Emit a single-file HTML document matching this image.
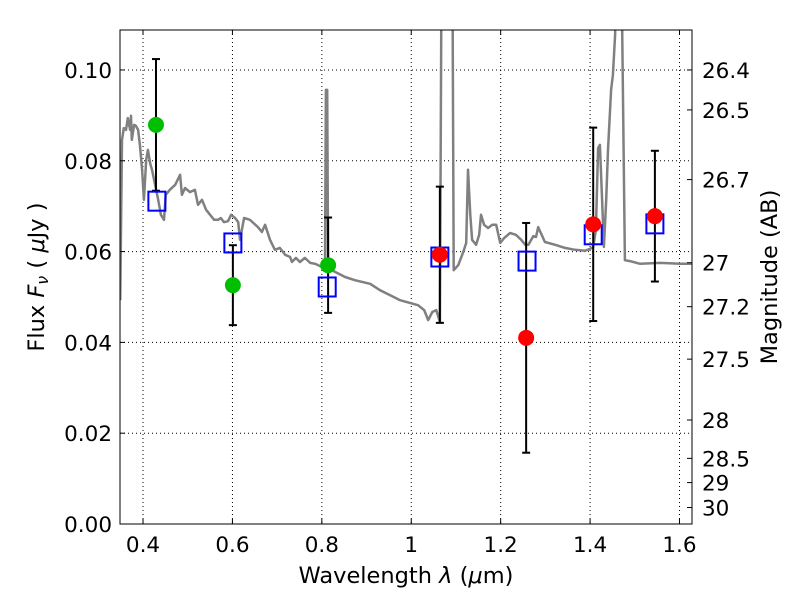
<!DOCTYPE html>
<html><head><meta charset="utf-8"><style>
body{margin:0;background:#fff;}
svg text{font-family:"DejaVu Sans","Liberation Sans",sans-serif;fill:#000;}
</style></head><body>
<svg id="chart" width="800" height="600" xmlns="http://www.w3.org/2000/svg">
<defs><clipPath id="clip"><rect x="120" y="30" width="572" height="494"/></clipPath></defs>
<g id="grid"></g>
<g id="spec" clip-path="url(#clip)"></g>
<g id="marks" clip-path="url(#clip)"></g>
<rect x="120" y="30" width="572" height="494" fill="none" stroke="#000" stroke-width="1"/>
<g id="axes"></g>
<text x="406" y="583" text-anchor="middle" font-size="22.5">Wavelength  <tspan font-style="italic">λ</tspan> (<tspan font-style="italic">μ</tspan>m)</text>
<text transform="translate(44,277) rotate(-90)" text-anchor="middle" font-size="22.5">Flux  <tspan font-style="italic">F<tspan font-size="16" dy="4">ν</tspan></tspan><tspan dy="-4">  ( </tspan><tspan font-style="italic">μ</tspan>Jy )</text>
<text transform="translate(777,277) rotate(-90)" text-anchor="middle" font-size="22.5">Magnitude (AB)</text>
</svg>
<script>
const specWl=[0.349,0.353,0.357,0.362,0.366,0.371,0.373,0.375,0.380,0.384,0.389,0.393,0.398,0.402,0.407,0.411,0.416,0.420,0.427,0.434,0.440,0.447,0.451,0.460,0.472,0.483,0.487,0.494,0.505,0.516,0.523,0.532,0.541,0.550,0.559,0.568,0.574,0.581,0.590,0.597,0.606,0.613,0.617,0.626,0.639,0.657,0.666,0.673,0.684,0.695,0.706,0.718,0.729,0.733,0.742,0.751,0.762,0.774,0.785,0.796,0.807,0.809,0.812,0.814,0.830,0.852,0.874,0.908,0.930,0.953,0.975,0.997,1.015,1.029,1.038,1.047,1.056,1.064,1.069,1.091,1.095,1.105,1.114,1.118,1.123,1.127,1.132,1.136,1.145,1.152,1.156,1.163,1.172,1.181,1.190,1.199,1.208,1.221,1.234,1.246,1.255,1.262,1.273,1.279,1.284,1.299,1.322,1.344,1.366,1.389,1.400,1.407,1.413,1.418,1.422,1.427,1.431,1.436,1.440,1.447,1.451,1.456,1.465,1.467,1.478,1.489,1.512,1.557,1.602,1.628];
const specFlux=[0.0493,0.0846,0.0872,0.0868,0.0894,0.0868,0.0899,0.0846,0.0879,0.0877,0.0868,0.0835,0.0780,0.0714,0.0802,0.0824,0.0794,0.0780,0.0747,0.0714,0.0681,0.0670,0.0725,0.0736,0.0747,0.0769,0.0725,0.0740,0.0731,0.0736,0.0703,0.0714,0.0692,0.0681,0.0670,0.0670,0.0674,0.0665,0.0667,0.0681,0.0674,0.0665,0.0626,0.0674,0.0670,0.0654,0.0643,0.0659,0.0626,0.0604,0.0608,0.0593,0.0588,0.0577,0.0586,0.0577,0.0586,0.0575,0.0573,0.0568,0.0564,0.0956,0.0956,0.0564,0.0555,0.0544,0.0537,0.0529,0.0515,0.0504,0.0493,0.0487,0.0482,0.0471,0.0449,0.0467,0.0471,0.0445,0.15,0.15,0.0559,0.0570,0.0593,0.0604,0.0619,0.0780,0.0681,0.0626,0.0615,0.0637,0.0681,0.0659,0.0652,0.0659,0.0659,0.0619,0.0630,0.0641,0.0637,0.0626,0.0615,0.0615,0.0634,0.0632,0.0654,0.0621,0.0615,0.0608,0.0604,0.0602,0.0606,0.0610,0.0648,0.0828,0.0835,0.0714,0.0610,0.0714,0.0824,0.0956,0.0989,0.1077,0.15,0.15,0.0581,0.0579,0.0573,0.0575,0.0573,0.0573,0.0573,0.0570];
const greenWl=[0.429,0.601,0.814];
const greenFlux=[0.0879,0.0526,0.0570];
const greenErr=[0.0145,0.0088,0.0105];
const redWl=[1.064,1.257,1.407,1.545];
const redFlux=[0.0593,0.0410,0.0660,0.0678];
const redErr=[0.0150,0.0253,0.0213,0.0144];
const modelWl=[0.431,0.601,0.812,1.064,1.259,1.407,1.545];
const modelFlux=[0.0711,0.0619,0.0522,0.0588,0.0579,0.0637,0.0661];
const xTicks=[0.4,0.6,0.8,1.0,1.2,1.4,1.6];
const xTickLabels=["0.4","0.6","0.8","1","1.2","1.4","1.6"];
const yTicks=[0,0.02,0.04,0.06,0.08,0.10];
const yTickLabels=["0.00","0.02","0.04","0.06","0.08","0.10"];
const magTicks=[26.4,26.5,26.7,27,27.2,27.5,28,28.5,29,30];
const magTickLabels=["26.4","26.5","26.7","27","27.2","27.5","28","28.5","29","30"];

const NS="http://www.w3.org/2000/svg";
const X0=120,X1=692,Y0=524,Y1=30,WMIN=0.3485,WMAX=1.628,FMIN=0,FMAX=0.1088;
const xs=w=>X0+(w-WMIN)/(WMAX-WMIN)*(X1-X0);
const ys=f=>Y0-(f-FMIN)/(FMAX-FMIN)*(Y0-Y1);
function mk(tag,attrs,parent){const e=document.createElementNS(NS,tag);for(const k in attrs)e.setAttribute(k,attrs[k]);parent.appendChild(e);return e;}
const grid=document.getElementById('grid'),axes=document.getElementById('axes'),spec=document.getElementById('spec'),marks=document.getElementById('marks');
xTicks.forEach((t,i)=>{const x=xs(t);
 const g=mk('line',{x1:x,x2:x,y1:Y1,y2:Y0,stroke:'#000','stroke-dasharray':'1,3','stroke-width':1},grid);
 
 mk('line',{x1:x,x2:x,y1:Y0,y2:Y0-5,stroke:'#000'},axes);mk('line',{x1:x,x2:x,y1:Y1,y2:Y1+5,stroke:'#000'},axes);
 const tx=mk('text',{x:x,y:Y0+28,'text-anchor':'middle','font-size':21.5},axes);tx.textContent=xTickLabels[i];
 });
yTicks.forEach((t,i)=>{const y=ys(t);
 if(t>0){const g=mk('line',{x1:X0,x2:X1,y1:y,y2:y,stroke:'#000','stroke-dasharray':'1,3','stroke-width':1},grid);
 }
 mk('line',{x1:X0,x2:X0+5,y1:y,y2:y,stroke:'#000'},axes);
 const tx=mk('text',{x:X0-8,y:y+8,'text-anchor':'end','font-size':21.5},axes);tx.textContent=yTickLabels[i];
 });
magTicks.forEach((m,i)=>{const f=Math.pow(10,(23.9-m)/2.5);const y=ys(f);
 mk('line',{x1:X1-5,x2:X1,y1:y,y2:y,stroke:'#000'},axes);
 const tx=mk('text',{x:X1+10,y:y+8,'font-size':21.5},axes);tx.textContent=magTickLabels[i];
 });
const pts=specWl.map((w,i)=>xs(w).toFixed(1)+','+ys(specFlux[i]).toFixed(1)).join(' ');
const pl=mk('polyline',{points:pts,fill:'none',stroke:'#808080','stroke-width':2.5,'stroke-linejoin':'round'},spec);

function errbar(w,f,e){const x=xs(w);
 const l=mk('line',{x1:x,x2:x,y1:ys(f+e),y2:ys(f-e),stroke:'#000','stroke-width':2},marks);
 
 mk('line',{x1:x-4,x2:x+4,y1:ys(f+e),y2:ys(f+e),stroke:'#000','stroke-width':2},marks);
 mk('line',{x1:x-4,x2:x+4,y1:ys(f-e),y2:ys(f-e),stroke:'#000','stroke-width':2},marks);}
greenWl.forEach((w,i)=>errbar(w,greenFlux[i],greenErr[i]));
redWl.forEach((w,i)=>errbar(w,redFlux[i],redErr[i]));
modelWl.forEach((w,i)=>{const r=mk('rect',{x:xs(w)-8.5,y:ys(modelFlux[i])-9.5,width:17,height:19,fill:'none',stroke:'#0000ff','stroke-width':2},marks);
 });
greenWl.forEach((w,i)=>{const c=mk('circle',{cx:xs(w),cy:ys(greenFlux[i]),r:8,fill:'#00bf00'},marks);
 });
redWl.forEach((w,i)=>{const c=mk('circle',{cx:xs(w),cy:ys(redFlux[i]),r:8,fill:'#ff0000'},marks);
 });
</script>
</body></html>
